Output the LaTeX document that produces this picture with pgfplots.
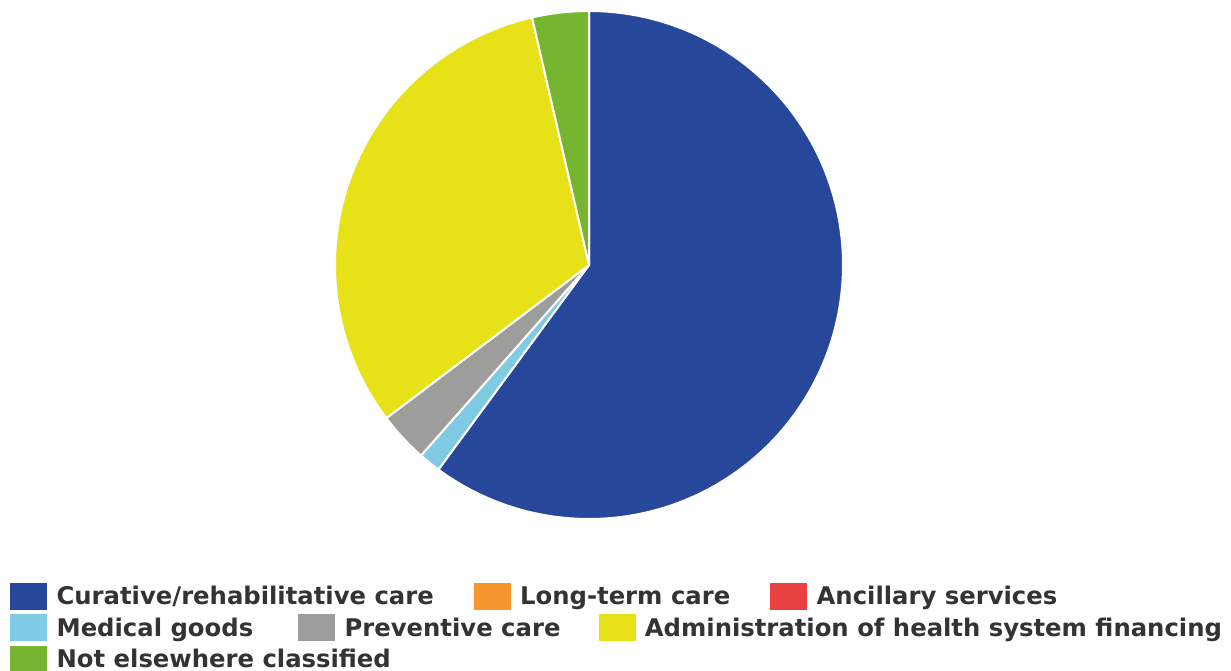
\documentclass[border=0pt]{standalone}
\usepackage{pgfplots}
\pgfplotsset{compat=1.18}
\usepackage{fontspec}
\setmainfont{DejaVu Sans}
\definecolor{cCur}{HTML}{27479A}
\definecolor{cLtc}{HTML}{F7952F}
\definecolor{cAnc}{HTML}{E94040}
\definecolor{cMed}{HTML}{7ECBE3}
\definecolor{cPre}{HTML}{9D9D9C}
\definecolor{cAdm}{HTML}{E7E118}
\definecolor{cNec}{HTML}{76B52F}
\definecolor{cText}{HTML}{333333}
% pie geometry (page points): centre and radius
\def\cx{589}\def\cy{405}\def\rr{254}
\def\cum{0}
\newcommand\slice[2]{% colour, value (percent)
  \pgfmathsetmacro\sb{90-3.6*\cum}%
  \pgfmathsetmacro\newcum{\cum+#2}%
  \pgfmathsetmacro\sa{90-3.6*\newcum}%
  \global\let\cum\newcum
  \edef\doslice{\noexpand\addplot[fill=#1, draw=white, line width=2pt, line join=round, domain=\sa:\sb, samples=200, forget plot]
    ({\cx+\rr*cos(x)},{\cy+\rr*sin(x)}) -- (axis cs:\cx,\cy) -- cycle;}%
  \doslice}
\newcommand\sq[1]{\addlegendimage{legend image code/.code={\fill[#1] (0pt,-13pt) rectangle (36pt,13pt);}}}
\pgfplotsset{
  page/.style={at={(0pt,0pt)}, anchor=south west, width=1231pt, height=670pt, scale only axis,
    xmin=0, xmax=1231, ymin=0, ymax=670, hide axis},
  lgd/.style={legend columns=-1,
    legend style={draw=none, fill=none, inner sep=0pt, anchor=west, at={(axis description cs:0.008123,#1)},
      font=\fontsize{24.3pt}{29pt}\selectfont\bfseries, text=cText, cells={anchor=west},
      nodes={inner xsep=0pt, inner ysep=0pt, text height=17.7pt, text depth=0pt},
      /tikz/every odd column/.append style={column sep=10pt},
      /tikz/every even column/.append style={column sep=40pt}}}
}
\begin{document}
\begin{tikzpicture}
\begin{axis}[page, lgd=0.11045]
  \slice{cCur}{60.1}
  \slice{cMed}{1.4}
  \slice{cPre}{3.2}
  \slice{cAdm}{31.7}
  \slice{cNec}{3.6}
  \sq{cCur}\addlegendentry{Curative/rehabilitative care}
  \sq{cLtc}\addlegendentry{Long-term care}
  \sq{cAnc}\addlegendentry{Ancillary services}
\end{axis}
\begin{axis}[page, lgd=0.06343]
  \sq{cMed}\addlegendentry{Medical goods\kern5pt}
  \sq{cPre}\addlegendentry{Preventive care\kern-2pt}
  \sq{cAdm}\addlegendentry{Administration of health system financing}
\end{axis}
\begin{axis}[page, lgd=0.016418]
  \sq{cNec}\addlegendentry{Not elsewhere classified}
\end{axis}
\pgfresetboundingbox
\path[use as bounding box] (0pt,0pt) rectangle (1231pt,670pt);
\end{tikzpicture}
\end{document}
